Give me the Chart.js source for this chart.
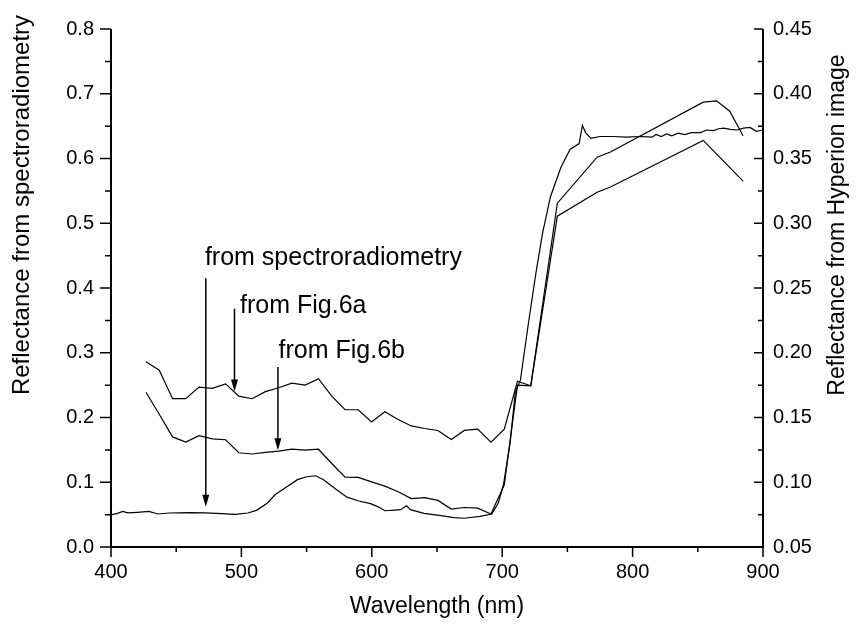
<!DOCTYPE html>
<html>
<head>
<meta charset="utf-8">
<script src="https://cdn.jsdelivr.net/npm/chart.js@4.4.1/dist/chart.umd.min.js"></script>
<style>
  html, body { margin: 0; padding: 0; background: #fff; }
  #wrap { width: 857px; height: 635px; }
</style>
</head>
<body>
<div id="wrap"><canvas id="spectra" width="857" height="635"></canvas></div>
<script>
// Field spectrum (left axis)
const spectroWl = [400, 405, 409, 413, 420, 429, 436, 445, 460, 472, 485, 495, 505, 512, 520, 526,
  532, 543, 550, 557, 563, 572, 581, 590, 599, 605, 610, 618, 622, 626.6, 629.6, 640, 653, 663,
  671, 683, 692, 697, 701, 706, 710, 714, 720, 726, 731, 737, 745, 752, 759, 761.5, 764, 768,
  775, 785, 795, 806, 815, 818, 822, 826, 830, 835, 840, 845, 852, 857, 862, 866, 870, 875,
  880, 885, 890, 895, 900];
const spectroRefl = [0.0495, 0.052, 0.055, 0.0526, 0.0535, 0.055, 0.051, 0.0525, 0.053, 0.0526,
  0.0515, 0.0505, 0.0525, 0.057, 0.068, 0.081, 0.089, 0.104, 0.1085, 0.110, 0.104, 0.090, 0.077,
  0.071, 0.067, 0.062, 0.056, 0.057, 0.0576, 0.0636, 0.0576, 0.052, 0.0485, 0.0455, 0.0444,
  0.0474, 0.051, 0.068, 0.0965, 0.16, 0.238, 0.258, 0.344, 0.425, 0.485, 0.541, 0.586, 0.614,
  0.623, 0.651, 0.640, 0.631, 0.634, 0.634, 0.633, 0.634, 0.633, 0.637, 0.634, 0.638, 0.635,
  0.639, 0.637, 0.640, 0.640, 0.644, 0.643, 0.646, 0.647, 0.645, 0.644, 0.647, 0.648, 0.642, 0.644];

// Hyperion pixel spectra (right axis)
const fig6aWl = [426.8, 437.0, 447.2, 457.3, 467.5, 477.7, 487.9, 498.0, 508.2, 518.4, 528.6,
  538.7, 548.9, 559.1, 569.3, 579.5, 589.6, 599.8, 610.0, 620.2, 630.3, 640.5, 650.7, 660.9,
  671.0, 681.2, 691.4, 701.6, 711.7, 721.9, 742.3, 772.8, 783.0, 854.2, 864.4, 874.5, 884.7];
const fig6aRefl = [0.193, 0.1865, 0.1645, 0.1645, 0.1735, 0.1725, 0.176, 0.1665, 0.1645, 0.170,
  0.173, 0.1765, 0.175, 0.180, 0.1665, 0.156, 0.156, 0.1465, 0.1545, 0.1485, 0.1435, 0.1415,
  0.140, 0.133, 0.140, 0.141, 0.131, 0.141, 0.178, 0.1745, 0.3155, 0.351, 0.355, 0.3935,
  0.3945, 0.3865, 0.3675];

const fig6bWl = [426.8, 437.0, 447.2, 457.3, 467.5, 477.7, 487.9, 498.0, 508.2, 518.4, 528.6,
  538.7, 548.9, 559.1, 569.3, 579.5, 589.6, 599.8, 610.0, 620.2, 630.3, 640.5, 650.7, 660.9,
  671.0, 681.2, 691.4, 701.6, 711.7, 721.9, 742.3, 772.8, 783.0, 854.2, 884.7];
const fig6bRefl = [0.1695, 0.1525, 0.135, 0.131, 0.136, 0.1335, 0.1328, 0.1228, 0.1218, 0.123,
  0.124, 0.1255, 0.1248, 0.1255, 0.1145, 0.104, 0.1038, 0.1003, 0.097, 0.0927, 0.0874, 0.0881,
  0.086, 0.0793, 0.0805, 0.080, 0.0755, 0.098, 0.175, 0.1745, 0.3055, 0.324, 0.328, 0.364, 0.3325];

const xTicks = [400, 500, 600, 700, 800, 900];
const leftTicks = [0, 0.1, 0.2, 0.3, 0.4, 0.5, 0.6, 0.7, 0.8];
const rightTicks = [0.05, 0.10, 0.15, 0.20, 0.25, 0.30, 0.35, 0.40, 0.45];

const FONT = "'Liberation Sans', Arial, Helvetica, sans-serif";

// labels with arrows, placed in wavelength / left-axis units
const notes = [
  { text: 'from spectroradiometry', x: 472, y: 0.436, arrowX: 472.7, from: 0.415, to: 0.062 },
  { text: 'from Fig.6a', x: 499, y: 0.361, arrowX: 494.7, from: 0.368, to: 0.240 },
  { text: 'from Fig.6b', x: 528.5, y: 0.292, arrowX: 528, from: 0.278, to: 0.1495 }
];

const toPoints = (xs, ys) => xs.map((v, i) => ({ x: v, y: ys[i] }));
const fixed = ticks => s => { s.ticks = ticks.map(v => ({ value: v })); };

// axis lines, in/out tick marks, titles and arrow labels
const framePlugin = {
  id: 'frame',
  afterDraw(chart) {
    const { ctx, chartArea: a, scales: { x, y, y1 } } = chart;
    ctx.save();
    ctx.strokeStyle = '#000';
    ctx.fillStyle = '#000';

    ctx.lineWidth = 2;
    ctx.beginPath();
    ctx.moveTo(a.left, a.top);
    ctx.lineTo(a.left, a.bottom);
    ctx.lineTo(a.right, a.bottom);
    ctx.lineTo(a.right, a.top);
    ctx.stroke();

    ctx.lineWidth = 1.5;
    ctx.beginPath();
    for (let i = 0; i <= 10; i++) {
      const px = x.getPixelForValue(400 + i * 50);
      const len = i % 2 === 0 ? 10 : 5;
      ctx.moveTo(px, a.bottom);
      ctx.lineTo(px, a.bottom + len);
    }
    for (let i = 0; i <= 16; i++) {
      const py = y.getPixelForValue(i * 0.05);
      const len = i % 2 === 0 ? 11 : 6;
      ctx.moveTo(a.left, py);
      ctx.lineTo(a.left - len, py);
    }
    for (let i = 0; i <= 16; i++) {
      const py = y1.getPixelForValue(0.05 + i * 0.025);
      const len = i % 2 === 0 ? 9 : 5;
      ctx.moveTo(a.right, py);
      ctx.lineTo(a.right - len, py);
    }
    ctx.stroke();

    // axis titles
    ctx.textAlign = 'center';
    ctx.textBaseline = 'middle';
    ctx.font = '23px ' + FONT;
    ctx.fillText('Wavelength (nm)', (a.left + a.right) / 2, 607);
    ctx.save();
    ctx.font = '24px ' + FONT;
    ctx.translate(22, 205);
    ctx.rotate(-Math.PI / 2);
    ctx.fillText('Reflectance from spectroradiometry', 0, 0);
    ctx.restore();
    ctx.save();
    ctx.translate(838, 225);
    ctx.rotate(-Math.PI / 2);
    ctx.fillText('Reflectance from Hyperion image', 0, 0);
    ctx.restore();

    // annotations
    ctx.font = '25px ' + FONT;
    ctx.textAlign = 'left';
    ctx.textBaseline = 'alphabetic';
    ctx.lineWidth = 1.5;
    notes.forEach(n => {
      ctx.fillText(n.text, x.getPixelForValue(n.x), y.getPixelForValue(n.y));
      const ax = x.getPixelForValue(n.arrowX);
      const y0 = y.getPixelForValue(n.from);
      const y1p = y.getPixelForValue(n.to);
      ctx.beginPath();
      ctx.moveTo(ax, y0);
      ctx.lineTo(ax, y1p - 10);
      ctx.stroke();
      ctx.beginPath();
      ctx.moveTo(ax - 3.5, y1p - 12);
      ctx.lineTo(ax + 3.5, y1p - 12);
      ctx.lineTo(ax, y1p);
      ctx.closePath();
      ctx.fill();
    });
    ctx.restore();
  }
};

const tickFont = { family: FONT, size: 20 };
const lineStyle = { borderColor: '#000', borderWidth: 1.2, pointRadius: 0, tension: 0, fill: false };

new Chart(document.getElementById('spectra'), {
  type: 'line',
  data: {
    datasets: [
      { label: 'from spectroradiometry', data: toPoints(spectroWl, spectroRefl), yAxisID: 'y', ...lineStyle },
      { label: 'from Fig.6a', data: toPoints(fig6aWl, fig6aRefl), yAxisID: 'y1', ...lineStyle },
      { label: 'from Fig.6b', data: toPoints(fig6bWl, fig6bRefl), yAxisID: 'y1', ...lineStyle }
    ]
  },
  options: {
    responsive: false,
    animation: false,
    devicePixelRatio: 1,
    layout: { padding: { top: 19, left: 0, right: 0, bottom: 0 } },
    plugins: { legend: { display: false }, tooltip: { enabled: false } },
    scales: {
      x: {
        type: 'linear', min: 400, max: 900,
        grid: { display: false, drawTicks: false }, border: { display: false },
        afterBuildTicks: fixed(xTicks),
        afterFit: s => { s.height = 88; },
        ticks: { color: '#000', font: tickFont, padding: 13, maxRotation: 0, callback: v => String(v) }
      },
      y: {
        type: 'linear', position: 'left', min: 0, max: 0.8,
        grid: { display: false, drawTicks: false }, border: { display: false },
        afterBuildTicks: fixed(leftTicks),
        afterFit: s => { s.width = 111; },
        ticks: { color: '#000', font: tickFont, padding: 17, callback: v => v.toFixed(1) }
      },
      y1: {
        type: 'linear', position: 'right', min: 0.05, max: 0.45,
        grid: { display: false, drawTicks: false }, border: { display: false },
        afterBuildTicks: fixed(rightTicks),
        afterFit: s => { s.width = 94; },
        ticks: { color: '#000', font: tickFont, padding: 10, callback: v => v.toFixed(2) }
      }
    }
  },
  plugins: [framePlugin]
});
</script>
</body>
</html>
